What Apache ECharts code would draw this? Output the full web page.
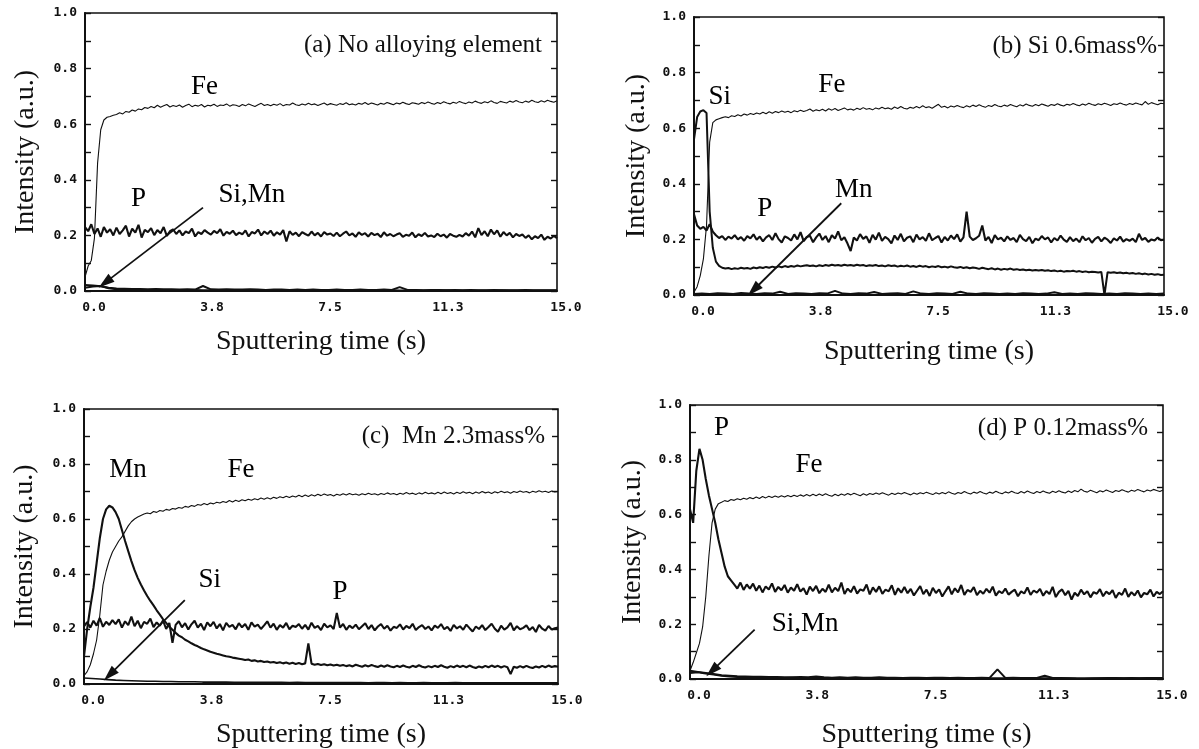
<!DOCTYPE html>
<html>
<head>
<meta charset="utf-8">
<script src="https://cdn.jsdelivr.net/npm/echarts@6/dist/echarts.min.js"></script>
</head>
<body style="margin:0;background:#fff">
<div id="main" style="width:1199px;height:749px"></div>
<script>
// sampling steps (s): main traces every 0.1 s, near-zero traces every 0.25 s
var dt = 0.1;
var dtLow = 0.25;

// (a) No alloying element
var feA = [
  0.05,0.09,0.11,0.19,0.46,0.58,0.615,0.625,0.628,0.632,
  0.635,0.641,0.637,0.646,0.643,0.651,0.647,0.655,0.652,0.66,
  0.657,0.664,0.659,0.668,0.661,0.666,0.671,0.662,0.667,0.664,
  0.669,0.661,0.667,0.672,0.663,0.668,0.665,0.671,0.662,0.668,
  0.666,0.672,0.664,0.669,0.667,0.673,0.665,0.67,0.668,0.664,
  0.671,0.666,0.673,0.668,0.664,0.67,0.675,0.667,0.671,0.666,
  0.672,0.668,0.674,0.666,0.671,0.669,0.676,0.67,0.667,0.673,
  0.669,0.675,0.67,0.673,0.667,0.672,0.676,0.669,0.674,0.671,
  0.668,0.674,0.671,0.677,0.67,0.673,0.669,0.675,0.672,0.678,
  0.671,0.676,0.673,0.669,0.675,0.672,0.678,0.674,0.67,0.676,
  0.673,0.679,0.674,0.671,0.677,0.675,0.672,0.678,0.674,0.68,
  0.675,0.672,0.678,0.674,0.681,0.676,0.673,0.679,0.675,0.682,
  0.677,0.674,0.68,0.676,0.683,0.678,0.675,0.681,0.677,0.684,
  0.678,0.675,0.682,0.679,0.676,0.683,0.679,0.685,0.68,0.677,
  0.683,0.679,0.686,0.681,0.678,0.684,0.68,0.686,0.682,0.679,
  0.684
];
var pA = [
  0.23,0.215,0.24,0.205,0.225,0.195,0.23,0.21,0.222,0.2,
  0.228,0.205,0.218,0.235,0.196,0.224,0.21,0.238,0.192,0.22,
  0.212,0.226,0.201,0.219,0.208,0.23,0.198,0.215,0.222,0.205,
  0.218,0.2,0.214,0.208,0.224,0.196,0.212,0.205,0.219,0.21,
  0.203,0.216,0.208,0.222,0.199,0.213,0.206,0.217,0.201,0.21,
  0.204,0.218,0.196,0.212,0.207,0.221,0.2,0.214,0.205,0.217,
  0.199,0.211,0.203,0.219,0.178,0.215,0.202,0.21,0.197,0.212,
  0.205,0.199,0.214,0.2,0.209,0.196,0.212,0.203,0.207,0.198,
  0.21,0.197,0.206,0.214,0.2,0.207,0.195,0.211,0.202,0.208,
  0.196,0.209,0.201,0.206,0.194,0.211,0.199,0.205,0.197,0.203,
  0.208,0.195,0.202,0.199,0.21,0.193,0.204,0.198,0.209,0.196,
  0.2,0.194,0.206,0.197,0.203,0.192,0.205,0.199,0.195,0.202,
  0.196,0.208,0.199,0.214,0.193,0.226,0.201,0.215,0.197,0.221,
  0.204,0.218,0.195,0.212,0.2,0.209,0.193,0.205,0.198,0.203,
  0.191,0.2,0.186,0.197,0.19,0.203,0.184,0.195,0.189,0.198,
  0.19
];
var siA = [
  0.022,0.02,0.017,0.012,0.009,0.008,0.007,0.007,0.006,0.007,
  0.006,0.006,0.005,0.006,0.005,0.018,0.006,0.005,0.006,0.005,
  0.005,0.006,0.005,0.004,0.005,0.005,0.004,0.005,0.004,0.005,
  0.004,0.004,0.005,0.004,0.004,0.005,0.004,0.004,0.005,0.004,
  0.014,0.004,0.004,0.003,0.004,0.004,0.003,0.004,0.003,0.004,
  0.003,0.003,0.004,0.003,0.003,0.003,0.004,0.003,0.003,0.003,
  0.003
];
var mnA = [
  0.012,0.016,0.018,0.01,0.006,0.005,0.004,0.004,0.003,0.004,
  0.003,0.004,0.003,0.003,0.004,0.003,0.003,0.004,0.003,0.003,
  0.003,0.004,0.003,0.003,0.002,0.003,0.003,0.002,0.003,0.003,
  0.002,0.003,0.002,0.003,0.002,0.002,0.003,0.002,0.002,0.003,
  0.002,0.002,0.003,0.002,0.002,0.002,0.003,0.002,0.002,0.002,
  0.002,0.002,0.002,0.003,0.002,0.002,0.002,0.002,0.002,0.002,
  0.002
];

// (b) Si 0.6mass%
var feB = [
  0.01,0.03,0.07,0.13,0.25,0.55,0.62,0.63,0.634,0.638,
  0.641,0.638,0.645,0.642,0.648,0.644,0.651,0.647,0.653,0.649,
  0.655,0.651,0.657,0.652,0.659,0.654,0.66,0.656,0.662,0.657,
  0.661,0.656,0.663,0.659,0.665,0.66,0.664,0.669,0.661,0.666,
  0.663,0.668,0.662,0.67,0.665,0.671,0.664,0.668,0.673,0.666,
  0.669,0.665,0.672,0.667,0.674,0.668,0.671,0.666,0.673,0.669,
  0.675,0.67,0.673,0.668,0.676,0.671,0.678,0.672,0.669,0.675,
  0.672,0.678,0.673,0.681,0.674,0.677,0.672,0.679,0.686,0.675,
  0.679,0.673,0.68,0.676,0.682,0.677,0.674,0.681,0.676,0.683,
  0.678,0.684,0.679,0.675,0.682,0.678,0.685,0.68,0.677,0.683,
  0.679,0.685,0.681,0.677,0.684,0.68,0.687,0.682,0.679,0.685,
  0.681,0.687,0.683,0.679,0.685,0.682,0.688,0.683,0.68,0.686,
  0.683,0.689,0.684,0.681,0.687,0.683,0.69,0.685,0.682,0.688,
  0.684,0.69,0.686,0.682,0.688,0.685,0.691,0.686,0.683,0.689,
  0.685,0.691,0.687,0.684,0.696,0.686,0.692,0.688,0.684,0.69,
  0.688
];
var siB = [
  0.56,0.64,0.66,0.665,0.655,0.3,0.17,0.12,0.105,0.098,
  0.095,0.097,0.093,0.096,0.094,0.098,0.095,0.097,0.094,0.099,
  0.096,0.1,0.097,0.101,0.098,0.102,0.099,0.103,0.1,0.104,
  0.101,0.104,0.102,0.106,0.103,0.105,0.107,0.104,0.106,0.103,
  0.107,0.104,0.108,0.105,0.109,0.106,0.108,0.105,0.109,0.106,
  0.108,0.105,0.109,0.106,0.108,0.104,0.107,0.105,0.108,0.104,
  0.106,0.103,0.107,0.104,0.106,0.102,0.105,0.103,0.106,0.102,
  0.104,0.101,0.105,0.102,0.104,0.1,0.103,0.101,0.104,0.1,
  0.102,0.099,0.103,0.1,0.098,0.101,0.097,0.1,0.096,0.099,
  0.097,0.094,0.098,0.095,0.093,0.096,0.092,0.095,0.091,0.094,
  0.092,0.095,0.091,0.093,0.09,0.092,0.089,0.091,0.088,0.09,
  0.088,0.09,0.087,0.089,0.086,0.088,0.085,0.087,0.084,0.086,
  0.085,0.087,0.084,0.086,0.083,0.085,0.082,0.084,0.083,0.081,
  0.083,0.0,0.082,0.08,0.082,0.079,0.081,0.078,0.08,0.077,
  0.079,0.076,0.078,0.075,0.077,0.074,0.076,0.073,0.075,0.072,
  0.073
];
var pB = [
  0.29,0.25,0.238,0.245,0.232,0.255,0.228,0.215,0.205,0.212,
  0.198,0.21,0.203,0.215,0.2,0.208,0.195,0.212,0.204,0.218,
  0.199,0.21,0.193,0.207,0.215,0.198,0.222,0.201,0.189,0.211,
  0.205,0.196,0.218,0.2,0.226,0.194,0.209,0.213,0.19,0.207,
  0.221,0.198,0.212,0.19,0.215,0.203,0.229,0.197,0.208,0.185,
  0.158,0.207,0.196,0.219,0.202,0.211,0.188,0.216,0.199,0.224,
  0.195,0.209,0.201,0.186,0.214,0.198,0.22,0.193,0.206,0.211,
  0.19,0.217,0.2,0.208,0.195,0.222,0.197,0.205,0.212,0.189,
  0.209,0.196,0.214,0.201,0.218,0.192,0.207,0.3,0.21,0.198,
  0.204,0.213,0.25,0.196,0.209,0.187,0.215,0.2,0.206,0.193,
  0.211,0.198,0.205,0.19,0.216,0.201,0.194,0.209,0.186,0.203,
  0.197,0.212,0.2,0.207,0.189,0.205,0.196,0.214,0.199,0.191,
  0.208,0.194,0.203,0.19,0.211,0.197,0.205,0.188,0.202,0.209,
  0.193,0.206,0.199,0.187,0.204,0.196,0.21,0.192,0.201,0.195,
  0.203,0.19,0.22,0.198,0.205,0.191,0.2,0.196,0.207,0.197,
  0.199
];
var mnB = [
  0.004,0.005,0.004,0.006,0.005,0.004,0.007,0.005,0.004,0.006,
  0.005,0.012,0.004,0.006,0.005,0.004,0.006,0.005,0.015,0.005,
  0.004,0.006,0.005,0.011,0.004,0.005,0.006,0.004,0.013,0.005,
  0.004,0.006,0.005,0.004,0.012,0.005,0.004,0.006,0.005,0.004,
  0.005,0.004,0.006,0.005,0.004,0.005,0.01,0.004,0.005,0.004,
  0.006,0.005,0.004,0.005,0.004,0.006,0.005,0.004,0.005,0.004,
  0.005
];

// (c) Mn 2.3mass%
var feC = [
  0.03,0.045,0.07,0.11,0.16,0.25,0.36,0.41,0.45,0.48,
  0.5,0.52,0.535,0.555,0.575,0.59,0.6,0.607,0.613,0.618,
  0.622,0.619,0.627,0.624,0.631,0.628,0.635,0.632,0.638,0.636,
  0.642,0.639,0.646,0.643,0.649,0.646,0.653,0.65,0.656,0.652,
  0.658,0.655,0.661,0.658,0.664,0.66,0.667,0.662,0.668,0.664,
  0.67,0.666,0.672,0.668,0.674,0.67,0.676,0.672,0.677,0.673,
  0.679,0.675,0.681,0.677,0.683,0.678,0.684,0.68,0.686,0.681,
  0.687,0.682,0.688,0.684,0.69,0.685,0.691,0.686,0.689,0.684,
  0.69,0.686,0.692,0.687,0.693,0.688,0.691,0.686,0.692,0.688,
  0.694,0.689,0.692,0.687,0.693,0.689,0.695,0.69,0.693,0.688,
  0.694,0.69,0.696,0.691,0.694,0.689,0.695,0.691,0.697,0.692,
  0.695,0.691,0.697,0.692,0.698,0.693,0.696,0.691,0.697,0.693,
  0.699,0.694,0.697,0.692,0.698,0.694,0.7,0.695,0.698,0.693,
  0.699,0.695,0.701,0.696,0.699,0.694,0.7,0.696,0.702,0.697,
  0.7,0.695,0.701,0.697,0.703,0.698,0.701,0.696,0.702,0.698,
  0.7
];
var mnC = [
  0.1,0.2,0.28,0.35,0.44,0.53,0.6,0.635,0.648,0.642,
  0.625,0.6,0.56,0.52,0.483,0.447,0.414,0.386,0.362,0.34,
  0.32,0.302,0.286,0.268,0.252,0.236,0.222,0.208,0.197,0.186,
  0.176,0.17,0.161,0.155,0.148,0.142,0.137,0.131,0.126,0.122,
  0.117,0.114,0.11,0.107,0.104,0.101,0.099,0.096,0.094,0.092,
  0.09,0.087,0.089,0.084,0.086,0.082,0.084,0.08,0.082,0.078,
  0.08,0.076,0.079,0.075,0.078,0.074,0.077,0.073,0.076,0.072,
  0.075,0.148,0.074,0.07,0.073,0.069,0.072,0.068,0.071,0.067,
  0.07,0.066,0.069,0.065,0.068,0.064,0.07,0.066,0.063,0.068,
  0.064,0.069,0.065,0.062,0.067,0.063,0.068,0.064,0.061,0.066,
  0.062,0.067,0.063,0.06,0.066,0.062,0.068,0.063,0.06,0.065,
  0.061,0.066,0.062,0.068,0.063,0.059,0.065,0.061,0.067,0.062,
  0.066,0.061,0.067,0.062,0.058,0.064,0.06,0.066,0.061,0.067,
  0.062,0.066,0.06,0.065,0.061,0.036,0.063,0.059,0.065,0.06,
  0.066,0.061,0.058,0.064,0.06,0.066,0.061,0.067,0.062,0.065,
  0.063
];
var pC = [
  0.21,0.225,0.205,0.23,0.212,0.24,0.208,0.226,0.215,0.232,
  0.218,0.235,0.205,0.228,0.214,0.245,0.21,0.23,0.203,0.226,
  0.219,0.238,0.207,0.224,0.212,0.231,0.2,0.222,0.15,0.215,
  0.228,0.206,0.221,0.198,0.217,0.23,0.205,0.219,0.196,0.224,
  0.21,0.226,0.202,0.218,0.195,0.222,0.208,0.215,0.199,0.221,
  0.206,0.218,0.197,0.224,0.209,0.216,0.2,0.213,0.228,0.205,
  0.219,0.197,0.214,0.205,0.222,0.199,0.212,0.207,0.218,0.201,
  0.215,0.198,0.223,0.204,0.211,0.196,0.219,0.206,0.213,0.2,
  0.258,0.205,0.218,0.197,0.212,0.203,0.216,0.199,0.21,0.221,
  0.2,0.214,0.195,0.209,0.218,0.201,0.212,0.194,0.208,0.204,
  0.217,0.198,0.211,0.203,0.219,0.196,0.207,0.214,0.2,0.209,
  0.195,0.212,0.204,0.218,0.199,0.208,0.193,0.215,0.202,0.21,
  0.197,0.216,0.203,0.191,0.209,0.2,0.214,0.196,0.207,0.219,
  0.201,0.19,0.212,0.198,0.206,0.222,0.195,0.21,0.199,0.204,
  0.213,0.196,0.207,0.189,0.215,0.201,0.194,0.211,0.198,0.203,
  0.205
];
var siC = [
  0.022,0.02,0.018,0.016,0.014,0.013,0.012,0.011,0.01,0.01,
  0.009,0.009,0.008,0.008,0.008,0.007,0.007,0.007,0.007,0.006,
  0.006,0.006,0.006,0.006,0.006,0.006,0.005,0.006,0.005,0.005,
  0.005,0.005,0.005,0.005,0.005,0.005,0.004,0.005,0.005,0.004,
  0.005,0.004,0.004,0.005,0.004,0.004,0.004,0.005,0.004,0.004,
  0.004,0.004,0.004,0.004,0.004,0.004,0.004,0.004,0.004,0.004,
  0.004
];

// (d) P 0.12mass%
var pD = [
  0.62,0.57,0.76,0.84,0.8,0.73,0.67,0.62,0.57,0.51,
  0.46,0.41,0.375,0.36,0.345,0.33,0.352,0.325,0.345,0.33,
  0.348,0.322,0.341,0.316,0.338,0.327,0.349,0.318,0.336,0.324,
  0.343,0.315,0.334,0.322,0.346,0.319,0.331,0.308,0.337,0.321,
  0.34,0.313,0.329,0.318,0.344,0.316,0.333,0.321,0.352,0.31,
  0.33,0.317,0.339,0.312,0.327,0.322,0.345,0.309,0.334,0.318,
  0.338,0.311,0.326,0.32,0.342,0.307,0.331,0.315,0.336,0.313,
  0.329,0.305,0.322,0.339,0.31,0.326,0.303,0.333,0.314,0.327,
  0.301,0.32,0.338,0.309,0.331,0.316,0.343,0.307,0.325,0.318,
  0.335,0.306,0.322,0.311,0.329,0.315,0.337,0.304,0.321,0.313,
  0.33,0.308,0.318,0.326,0.302,0.32,0.312,0.334,0.307,0.323,
  0.315,0.329,0.304,0.321,0.31,0.336,0.299,0.318,0.327,0.306,
  0.322,0.29,0.315,0.303,0.326,0.309,0.32,0.298,0.317,0.311,
  0.328,0.302,0.319,0.31,0.324,0.296,0.315,0.307,0.33,0.3,
  0.317,0.305,0.323,0.298,0.314,0.309,0.326,0.301,0.318,0.31,
  0.32
];
var feD = [
  0.03,0.06,0.095,0.13,0.19,0.3,0.45,0.57,0.62,0.64,
  0.645,0.651,0.648,0.655,0.652,0.658,0.654,0.66,0.656,0.662,
  0.658,0.664,0.659,0.666,0.661,0.667,0.662,0.668,0.663,0.669,
  0.664,0.67,0.665,0.671,0.666,0.672,0.667,0.673,0.668,0.674,
  0.669,0.675,0.67,0.676,0.671,0.667,0.674,0.669,0.675,0.671,
  0.677,0.672,0.678,0.673,0.669,0.676,0.671,0.677,0.673,0.679,
  0.674,0.68,0.675,0.671,0.678,0.673,0.679,0.675,0.681,0.676,
  0.672,0.679,0.674,0.68,0.676,0.682,0.677,0.673,0.68,0.675,
  0.681,0.676,0.683,0.678,0.674,0.681,0.677,0.684,0.679,0.675,
  0.682,0.678,0.684,0.679,0.675,0.682,0.678,0.685,0.68,0.676,
  0.683,0.679,0.685,0.68,0.677,0.684,0.679,0.686,0.681,0.677,
  0.684,0.68,0.686,0.681,0.678,0.685,0.681,0.687,0.682,0.679,
  0.686,0.681,0.688,0.683,0.693,0.685,0.682,0.689,0.684,0.68,
  0.687,0.683,0.69,0.685,0.681,0.688,0.684,0.691,0.686,0.682,
  0.689,0.685,0.692,0.687,0.683,0.69,0.686,0.692,0.688,0.684,
  0.69
];
var siD = [
  0.03,0.026,0.022,0.018,0.014,0.012,0.01,0.009,0.008,0.008,
  0.007,0.007,0.006,0.006,0.007,0.006,0.009,0.006,0.005,0.006,
  0.005,0.006,0.005,0.005,0.006,0.005,0.005,0.004,0.005,0.005,
  0.004,0.005,0.005,0.004,0.005,0.004,0.004,0.005,0.004,0.035,
  0.004,0.005,0.004,0.004,0.004,0.012,0.004,0.004,0.003,0.001,
  0.0,0.002,0.003,0.004,0.004,0.003,0.004,0.003,0.004,0.004,
  0.004
];
var mnD = [
  0.022,0.025,0.02,0.016,0.012,0.009,0.007,0.006,0.006,0.005,
  0.005,0.005,0.004,0.005,0.004,0.004,0.005,0.004,0.004,0.004,
  0.004,0.004,0.003,0.004,0.004,0.003,0.004,0.003,0.003,0.004,
  0.003,0.003,0.004,0.003,0.003,0.003,0.003,0.004,0.003,0.003,
  0.003,0.003,0.003,0.003,0.003,0.003,0.003,0.003,0.003,0.003,
  0.003,0.003,0.003,0.003,0.003,0.003,0.003,0.003,0.003,0.003,
  0.003
];

var serif = '"Liberation Serif", "Times New Roman", serif';
var mono = '"DejaVu Sans Mono", monospace';
var ink = '#111';

function pairs(values, step) {
    return values.map(function (v, i) { return [+(i * step).toFixed(2), v]; });
}

var panels = [
    {
        rect: {left: 85, top: 13, width: 472, height: 278}, yGap: 45, xGap: 37,
        title: '(a) No alloying element', titleRight: 657, titleTop: 33,
        lines: [[feA, dt, 1.1], [pA, dt, 2.1], [siA, dtLow, 2], [mnA, dtLow, 2]],
        labels: [['Fe', 3.8, 0.735], ['P', 1.7, 0.33], ['Si,Mn', 5.3, 0.345]],
        arrow: [[3.75, 0.30], [0.64, 0.03]]
    },
    {
        rect: {left: 694, top: 17, width: 470, height: 278}, yGap: 43, xGap: 43,
        title: '(b) Si 0.6mass%', titleRight: 42, titleTop: 34,
        lines: [[feB, dt, 1.1], [siB, dt, 2], [pB, dt, 2.1], [mnB, dtLow, 2]],
        labels: [['Fe', 4.4, 0.755], ['Si', 0.82, 0.713], ['P', 2.26, 0.31], ['Mn', 5.1, 0.378]],
        arrow: [[4.7, 0.33], [1.9, 0.018]]
    },
    {
        rect: {left: 84, top: 409, width: 474, height: 275}, yGap: 45, xGap: 37,
        title: '(c)  Mn 2.3mass%', titleRight: 654, titleTop: 424,
        lines: [[feC, dt, 1.1], [mnC, dt, 2.1], [pC, dt, 2.1], [siC, dtLow, 1.6]],
        labels: [['Mn', 1.39, 0.78], ['Fe', 4.97, 0.78], ['Si', 3.98, 0.38], ['P', 8.1, 0.335]],
        arrow: [[3.19, 0.305], [0.81, 0.033]]
    },
    {
        rect: {left: 690, top: 405, width: 473, height: 274}, yGap: 43, xGap: 42,
        title: '(d) P 0.12mass%', titleRight: 51, titleTop: 416,
        lines: [[feD, dt, 1.1], [pD, dt, 2.1], [siD, dtLow, 2], [mnD, dtLow, 2]],
        labels: [['P', 1.0, 0.915], ['Fe', 3.77, 0.78], ['Si,Mn', 3.65, 0.2]],
        arrow: [[2.05, 0.18], [0.7, 0.03]]
    }
];

var option = {
    animation: false,
    backgroundColor: '#fff',
    title: [], grid: [], xAxis: [], yAxis: [], series: []
};

panels.forEach(function (p, k) {
    option.grid.push(Object.assign({
        show: true, borderColor: ink, borderWidth: 1.6,
        containLabel: false, outerBoundsMode: 'none'
    }, p.rect));

    option.title.push({
        text: p.title, right: p.titleRight, top: p.titleTop, padding: 0,
        textStyle: {fontFamily: serif, fontSize: 25, fontWeight: 'normal', color: ink}
    });

    option.xAxis.push({
        type: 'value', gridIndex: k, min: 0, max: 15, interval: 3.75,
        name: 'Sputtering time (s)', nameLocation: 'middle', nameGap: p.xGap,
        nameTextStyle: {fontFamily: serif, fontSize: 28, color: ink},
        axisLine: {show: true, lineStyle: {color: ink, width: 2}},
        axisTick: {show: false},
        splitLine: {show: false},
        axisLabel: {
            fontFamily: mono, fontSize: 13, fontWeight: 'bold', color: ink, margin: 10,
            padding: [0, 0, 0, 18],
            formatter: function (v) { return v.toFixed(1); }
        }
    });

    var yBase = {
        type: 'value', gridIndex: k, min: 0, max: 1, interval: 0.1,
        splitLine: {show: false},
        axisTick: {show: true, inside: true, length: 6, lineStyle: {color: ink, width: 1.4}}
    };
    option.yAxis.push(Object.assign({}, yBase, {
        position: 'left',
        name: 'Intensity (a.u.)', nameLocation: 'middle', nameGap: p.yGap,
        nameTextStyle: {fontFamily: serif, fontSize: 28, color: ink},
        axisLine: {show: true, lineStyle: {color: ink, width: 2}},
        axisLabel: {
            fontFamily: mono, fontSize: 13, fontWeight: 'bold', color: ink, margin: 8,
            formatter: function (v) { return Math.round(v * 10) % 2 === 0 ? v.toFixed(1) : ''; }
        }
    }));
    option.yAxis.push(Object.assign({}, yBase, {
        position: 'right',
        axisLine: {show: false},
        axisLabel: {show: false}
    }));

    p.lines.forEach(function (ln, j) {
        var s = {
            type: 'line', xAxisIndex: k, yAxisIndex: 2 * k,
            data: pairs(ln[0], ln[1]),
            showSymbol: false, symbol: 'none', silent: true,
            lineStyle: {color: ink, width: ln[2]}
        };
        if (j === 0) {
            s.markLine = {
                silent: true, symbol: ['none', 'triangle'], symbolSize: [10, 16],
                lineStyle: {color: ink, width: 1.8, type: 'solid', opacity: 1},
                label: {show: false},
                data: [[{coord: p.arrow[0]}, {coord: p.arrow[1]}]]
            };
        }
        option.series.push(s);
    });

    option.series.push({
        type: 'scatter', xAxisIndex: k, yAxisIndex: 2 * k, silent: true,
        symbolSize: 1, itemStyle: {color: 'transparent', opacity: 1},
        label: {
            show: true, position: 'inside', formatter: '{b}',
            fontFamily: serif, fontSize: 27, color: '#000', opacity: 1,
            textBorderWidth: 0
        },
        data: p.labels.map(function (l) { return {name: l[0], value: [l[1], l[2]]}; })
    });
});

var chart = echarts.init(document.getElementById('main'));
chart.setOption(option);
</script>
</body>
</html>
